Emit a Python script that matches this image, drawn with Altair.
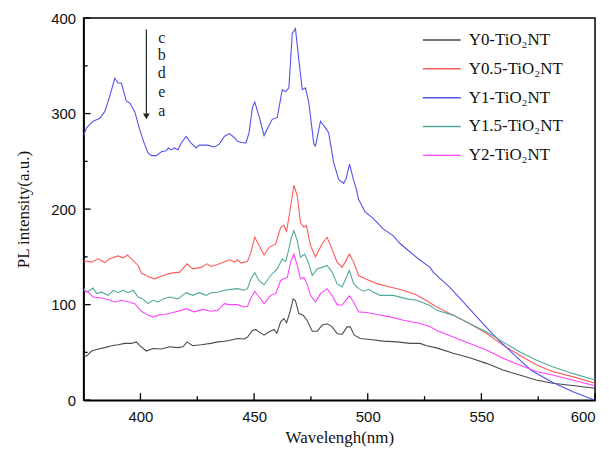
import altair as alt
import pandas as pd

series_names = ["Y0-TiO\u2082NT", "Y0.5-TiO\u2082NT", "Y1-TiO\u2082NT", "Y1.5-TiO\u2082NT", "Y2-TiO\u2082NT"]
series_colors = ["#4a4a4a", "#ff5a5a", "#5252ee", "#52a89a", "#ff44ff"]

# Y0-TiO2NT (black)
y0_wl = [375, 376.3, 378.5, 381.4, 384.3, 387.3, 390.2, 393.1, 396, 398.2, 399.7, 402.6, 405.5, 409.2,
         412.8, 416.5, 418.7, 420.5, 423, 426.7, 431, 434, 436.9, 439.1, 442.7, 445.7, 447.1, 449.3,
         450.7, 452.2, 454.4, 456.6, 458.8, 460, 461.7, 463.1, 464.3, 465.8, 467.2, 468.2, 469.7, 471.6,
         473.3, 475.6, 477.8, 479.9, 482.1, 484.3, 486.5, 488.7, 490.9, 492.3, 494.1, 496.7, 501.1,
         506.9, 512.8, 518.6, 523, 525.9, 530.3, 537.6, 544.9, 552.2, 559.5, 566.8, 574.1, 581.3, 590.1, 600]
y0_int = [47, 46, 51.4, 53.5, 55, 57, 58, 59.4, 59.4, 61, 57, 51.4, 54, 53.5,
          55.9, 55, 55.9, 61, 57, 58, 59.4, 61, 61.7, 62.5, 64.6, 64, 66, 73,
          74, 71.5, 68, 71.5, 74, 70, 82, 85.4, 81, 92.4, 106, 104, 90.6, 89,
          83.6, 72.2, 72.2, 78.4, 80, 77, 69.8, 68.8, 76.7, 76.7, 68, 64.6, 63.5,
          61.8, 61, 59.4, 59.4, 57, 54.7, 49, 44.4, 38.5, 31.6, 26.4, 21, 17.7, 15.3, 12.5]

# Y0.5-TiO2NT (red)
y05_wl = [375, 378.5, 381.4, 384.3, 386.5, 390.2, 392.4, 394.3, 396.8, 399, 400.4, 403.3, 406.2, 409.9,
          413.5, 417.2, 420.5, 423, 426.7, 429.3, 431, 434, 436.9, 439.1, 441.3, 442.7, 444.2, 447.1,
          448.6, 450.3, 452.2, 454.4, 456.6, 459.5, 461.7, 463.1, 464.3, 466.1, 467.5, 469, 470.4, 471.9,
          473, 474.8, 477, 479.9, 482.1, 484.3, 486.5, 488.7, 490.1, 491.9, 493.8, 496, 498.9, 504,
          509.8, 515.7, 521.5, 527.4, 530.3, 537.6, 544.9, 552.2, 559.5, 566.8, 574.1, 581.3, 590.1, 600]
y05_int = [146, 144.5, 148, 144, 148, 151, 149, 152, 146, 141, 133, 129.5, 127, 130.5,
           133, 134, 142.7, 137.5, 139, 142.7, 140, 142, 145, 147, 144.5, 147, 143.7, 145,
           155, 170.5, 162, 152, 160, 163.5, 181, 183, 177, 203, 225, 214, 186, 181,
           183, 162, 150, 163.5, 170.5, 158, 144.5, 139, 144.5, 153, 144.5, 130.5, 127, 122,
           118.4, 115, 110, 102, 97.6, 89, 80, 70, 57.6, 47, 37, 30, 24.6, 17.7]

# Y1-TiO2NT (blue)
y1_wl = [375, 376.3, 379.2, 382.1, 384.3, 386.5, 388.7, 390.2, 391.6, 393.8, 395.3, 397.5, 399.7, 401.8,
         403.3, 404.8, 407, 409.2, 411.3, 412.3, 413.5, 415, 416.5, 417.9, 420.1, 422.3, 424.5, 425.9,
         429.6, 432.5, 434.7, 436.9, 439.1, 441.3, 442.7, 444.2, 446.4, 447.8, 449.3, 450.3, 452.2, 454.4,
         456, 458, 460.2, 462.4, 463.9, 465.3, 466.8, 468.2, 469.7, 471.2, 472.6, 474.1, 476.3, 477,
         479.2, 481.4, 482.8, 485, 487.2, 489.4, 490.5, 492, 493.8, 495, 496, 498.9, 502.5, 506.9,
         511.3, 514.2, 517.2, 522.2, 527.4, 528.8, 536.1, 540, 545, 550, 555, 558, 566, 572, 581, 590, 600]
y1_int = [277, 285, 292, 295, 302, 318, 337, 332, 332, 313, 311, 302, 283, 268,
          259, 256, 256, 260, 261, 264, 262, 264, 262, 269, 276, 269, 264, 267,
          267, 265, 268, 276, 279, 275, 271, 270, 269, 280, 307, 312, 297, 277,
          285, 294, 296, 325, 323, 327, 384, 389, 356, 325, 327, 311, 268, 266,
          292, 285, 280, 249, 231, 227, 232, 247, 230, 221, 210, 197, 190, 179,
          172, 164, 158, 148, 139, 134, 118, 108, 95, 82, 69, 62, 44, 31, 19, 9, 0]

# Y1.5-TiO2NT (teal)
y15_wl = [375, 376.3, 379.2, 380.7, 382.9, 385.8, 388, 390.2, 392.4, 394.6, 396.8, 399, 401.1, 403.3,
          405.5, 407.7, 409.9, 412.8, 416.5, 420.1, 423, 425.9, 428.9, 431, 434, 436.9, 439.8, 442.7,
          445.7, 447.1, 448.6, 450.3, 452.2, 454.4, 457.3, 460.2, 462.4, 463.9, 465.3, 466.4, 467.5, 469,
          470.4, 472.2, 473.6, 475.6, 477.8, 479.9, 482.1, 484.3, 486.5, 488.7, 491.9, 493.8, 496, 498.2,
          500.4, 502.5, 505.5, 511.3, 517.2, 521.5, 527.4, 530.3, 537.6, 544.9, 552.2, 559.5, 566.8,
          574.1, 581.3, 590.1, 600]
y15_int = [117, 113, 117.4, 111.5, 113, 109.7, 115, 112.5, 115, 112.5, 115, 108, 106, 101,
           104.5, 102.8, 106, 108, 106, 112.5, 109.7, 112.5, 109.7, 112.5, 113, 115, 116, 116.7,
           115, 116.7, 127, 133.5, 125, 120.8, 130.5, 137.5, 148, 145, 158, 170.5, 177.4, 167,
           149.7, 153, 146, 130.5, 137.5, 139, 141, 134, 122, 118.4, 135.7, 122, 116.7, 114,
           116, 113, 109.7, 109.7, 106, 104.5, 99, 94, 89, 80, 71.5, 61, 50.7,
           42, 35, 28, 21]

# Y2-TiO2NT (magenta)
y2_wl = [375, 377, 379.2, 382.9, 385.8, 388.7, 391.6, 394.6, 397.5, 400.4, 403.3, 405.5, 407.7, 410.6,
         414.3, 417.9, 420.1, 423.7, 427.4, 431, 434, 436.9, 439.1, 442.7, 445.7, 447.1, 448.6, 450.3,
         452.2, 454.4, 457.3, 459.5, 461.7, 463.1, 464.6, 466.1, 467.5, 469, 470.4, 471.9, 473.3, 474.8,
         477, 479.2, 482.1, 484.3, 486.5, 488.7, 491.9, 493.8, 496, 499.6, 504, 509.8, 515.7, 521.5,
         527.4, 530.3, 537.6, 544.9, 552.2, 559.5, 566.8, 574.1, 581.3, 590.1, 600]
y2_int = [115, 113, 108, 107, 105, 102.8, 104.5, 103, 101, 93, 89, 87, 89, 89.6,
          91.7, 94, 95.8, 92.4, 95, 93, 94, 101, 100, 100, 97.6, 98, 107, 113.8,
          108, 101, 109.7, 111.5, 125.3, 127, 128.5, 144.5, 153, 141, 127, 128.5, 122, 109.7,
          102.8, 111.5, 116.7, 109.7, 100, 99.3, 109, 102.8, 92.4, 91.7, 89.6, 87.2, 83.6, 81,
          77, 73, 66, 59.4, 52.4, 43.75, 36.8, 29.9, 26.4, 21, 15]

x_major = [400, 450, 500, 550, 600]
x_minor = [425, 475, 525, 575]
y_major = [0, 100, 200, 300, 400]
y_minor = [50, 150, 250, 350]

arrow_x = [402.6]
arrow_top = [388]
arrow_bottom = [300]
arrow_head = [297]
letters = ["c", "b", "d", "e", "a"]
letters_x = [409.4] * 5
letters_y = [379, 361.5, 342, 323, 303]

W, H = 514, 384
SERIF = "Liberation Serif, Times New Roman, Times, serif"
SANS = "Liberation Sans, Arial, Helvetica, sans-serif"

frames = []
for name, wl, iv in zip(series_names,
                        [y0_wl, y05_wl, y1_wl, y15_wl, y2_wl],
                        [y0_int, y05_int, y1_int, y15_int, y2_int]):
    frames.append(pd.DataFrame({"wl": wl, "I": iv, "series": name}))
df = pd.concat(frames, ignore_index=True)

xscale = alt.Scale(domain=[375, 600], nice=False, zero=False)
yscale = alt.Scale(domain=[0, 400], nice=False)

lines = alt.Chart(df).mark_line(strokeWidth=1.1, clip=True).encode(
    x=alt.X("wl:Q", scale=xscale,
            axis=alt.Axis(values=x_major, title="Wavelengh(nm)", ticks=False, grid=False,
                          labelFont=SANS, labelFontSize=15, labelColor="#111",
                          labelPadding=9, titleFont=SERIF, titleFontSize=17,
                          titleFontWeight="normal", titleColor="#111", titlePadding=6,
                          domainColor="#000", domainWidth=1.5)),
    y=alt.Y("I:Q", scale=yscale,
            axis=alt.Axis(values=y_major, title="PL intensity(a.u.)", ticks=False, grid=False,
                          labelFont=SANS, labelFontSize=15, labelColor="#111",
                          labelPadding=8, titleFont=SERIF, titleFontSize=17,
                          titleFontWeight="normal", titleColor="#111", titlePadding=18,
                          domainColor="#000", domainWidth=1.5)),
    color=alt.Color("series:N", sort=series_names,
                    scale=alt.Scale(domain=series_names, range=series_colors),
                    legend=alt.Legend(title=None, orient="none", legendX=340, legendY=2,
                                      symbolType="stroke", symbolSize=1444, symbolStrokeWidth=1.5,
                                      labelFont=SERIF, labelFontSize=17,
                                      labelColor="#111", labelOffset=7, rowPadding=1,
                                      padding=0)),
    detail="series:N",
)

xmaj = alt.Chart(pd.DataFrame({"t": x_major})).mark_rule(color="#000", strokeWidth=1.3).encode(
    x=alt.X("t:Q", scale=xscale), y=alt.value(H), y2=alt.value(H - 7))
xmin = alt.Chart(pd.DataFrame({"t": x_minor})).mark_rule(color="#000", strokeWidth=1.3).encode(
    x=alt.X("t:Q", scale=xscale), y=alt.value(H), y2=alt.value(H - 4))
ymaj = alt.Chart(pd.DataFrame({"t": y_major})).mark_rule(color="#000", strokeWidth=1.3).encode(
    y=alt.Y("t:Q", scale=yscale), x=alt.value(0), x2=alt.value(7))
ymin = alt.Chart(pd.DataFrame({"t": y_minor})).mark_rule(color="#000", strokeWidth=1.3).encode(
    y=alt.Y("t:Q", scale=yscale), x=alt.value(0), x2=alt.value(4))

arrow = alt.Chart(pd.DataFrame({"x": arrow_x, "y1": arrow_top, "y2": arrow_bottom})).mark_rule(
    color="#222", strokeWidth=1.2).encode(
    x=alt.X("x:Q", scale=xscale), y=alt.Y("y1:Q", scale=yscale), y2="y2:Q")
head = alt.Chart(pd.DataFrame({"x": arrow_x, "y": arrow_head})).mark_point(
    shape="triangle-down", filled=True, size=45, color="#222", opacity=1).encode(
    x=alt.X("x:Q", scale=xscale), y=alt.Y("y:Q", scale=yscale))
text = alt.Chart(pd.DataFrame({"x": letters_x, "y": letters_y, "t": letters})).mark_text(
    font=SERIF, fontSize=16, color="#222", align="center", baseline="middle").encode(
    x=alt.X("x:Q", scale=xscale), y=alt.Y("y:Q", scale=yscale), text="t:N")

chart = alt.layer(lines, xmaj, xmin, ymaj, ymin, arrow, head, text).properties(
    width=W, height=H, padding={"left": 6, "top": 2, "right": 5, "bottom": 5},
    background="white"
).configure_view(stroke="#000", strokeWidth=1.5)

chart.save("out.html", embed_options={"renderer": "svg", "actions": False})
